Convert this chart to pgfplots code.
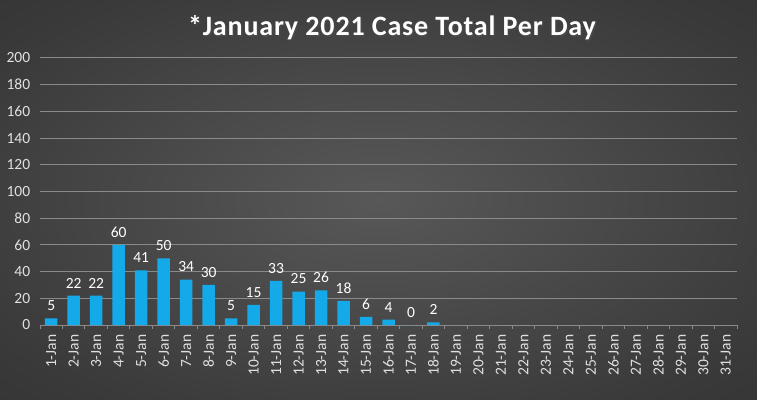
\documentclass[border=0pt]{standalone}
\usepackage{fontspec}
\setmainfont{Carlito}
\newfontfamily\titlefont[LetterSpace=3]{Carlito}
\usepackage{pgfplots}
\pgfplotsset{compat=1.18}
\definecolor{barblue}{HTML}{14A9E9}
\definecolor{bgin}{HTML}{585858}
\definecolor{bgmid}{HTML}{3A3A3A}
\definecolor{bgout}{HTML}{1C1C1C}
\definecolor{gridc}{HTML}{8A8A8A}
\definecolor{tickc}{HTML}{E0E0E0}
\pgfdeclareradialshading{bgshade}{\pgfpoint{0bp}{0bp}}{color(0bp)=(bgin); color(30bp)=(bgmid); color(72bp)=(bgout)}
\begin{document}
\begin{tikzpicture}[x=1pt,y=1pt]
\shade[shading=bgshade] (0,0) rectangle (757,399);
\node[font=\titlefont\fontsize{28}{32}\selectfont\bfseries, text=black!70, opacity=0.6] at (393.5,369.5) {*January 2021 Case Total Per Day};
\node[font=\titlefont\fontsize{28}{32}\selectfont\bfseries, text=white] at (392,371) {*January 2021 Case Total Per Day};
\begin{axis}[
  at={(40pt,74pt)}, anchor=south west,
  scale only axis, width=697pt, height=267pt,
  ybar, bar width=12.5pt,
  xmin=0.5, xmax=31.5, ymin=0, ymax=200,
  ytick={0,20,...,200},
  xtick={1,...,31},
  xticklabels={1-Jan,2-Jan,3-Jan,4-Jan,5-Jan,6-Jan,7-Jan,8-Jan,9-Jan,10-Jan,11-Jan,12-Jan,13-Jan,14-Jan,15-Jan,16-Jan,17-Jan,18-Jan,19-Jan,20-Jan,21-Jan,22-Jan,23-Jan,24-Jan,25-Jan,26-Jan,27-Jan,28-Jan,29-Jan,30-Jan,31-Jan},
  minor xtick={0.5,1.5,...,31.5},
  x tick label style={rotate=90, anchor=east, font=\fontsize{15.5}{17}\selectfont, text=tickc},
  y tick label style={font=\fontsize{15.5}{17}\selectfont, text=tickc},
  /pgf/number format/assume math mode=true,
  axis x line*=bottom, axis y line*=left,
  separate axis lines,
  x axis line style={draw=gridc, line width=1pt, -},
  y axis line style={draw=none},
  ytick style={draw=none},
  major x tick style={draw=none},
  minor x tick style={draw=gridc, line width=1pt},
  minor tick length=4pt,
  tick align=outside,
  ymajorgrids, grid style={draw=gridc, line width=1pt},
  nodes near coords,
  every node near coord/.append style={font=\fontsize{15.5}{17}\selectfont, text=white, yshift=4pt},
  xticklabel shift=2pt,
  yticklabel shift=2pt,
]
\addplot[fill=barblue, draw=none] coordinates {
(1,5) (2,22) (3,22) (4,60) (5,41) (6,50) (7,34) (8,30) (9,5) (10,15)
(11,33) (12,25) (13,26) (14,18) (15,6) (16,4) (17,0) (18,2)
};
\end{axis}
\end{tikzpicture}
\end{document}
